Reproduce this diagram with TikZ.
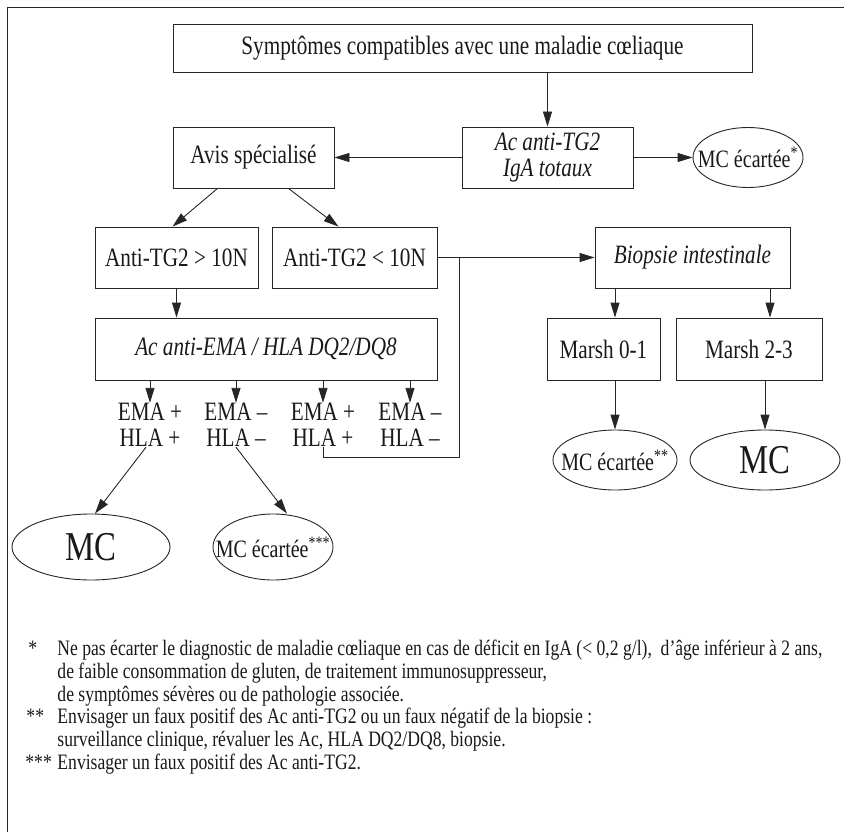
\documentclass[tikz,border=0pt]{standalone}
\usepackage{fontspec}
\setmainfont[FakeStretch=0.8]{Liberation Serif}
\usetikzlibrary{arrows.meta,shapes.geometric}
\begin{document}
\begin{tikzpicture}[x=1pt,y=-1pt, line width=0.9pt, color=black!85,
  every node/.style={inner sep=0pt, text=black!90},
  box/.style={draw, rectangle, align=center, font=\fontsize{26.5}{26}\selectfont},
  ell/.style={draw, ellipse},
  etext/.style={font=\fontsize{25}{26}\selectfont},
  big/.style={font=\fontsize{41}{42}\selectfont},
  lab/.style={align=center, font=\fontsize{26.5}{26}\selectfont},
  arr/.style={-{Triangle[length=15pt,width=9pt]}},
  foot/.style={anchor=base west, font=\fontsize{22}{23}\selectfont}]
\useasboundingbox (0,0) rectangle (844,832);
\draw (844,7) -- (7,7) -- (7,832);
% row 1
\node[box, minimum width=579pt, minimum height=48pt] (top) at (462.5,48) {Symptômes compatibles avec une maladie cœliaque};
% row 2
\node[box, minimum width=161pt, minimum height=61pt] (avis) at (253.5,157.5) {Avis spécialisé};
\node[box, minimum width=171pt, minimum height=61pt] (tg) at (547.5,157.5) {\itshape Ac anti-TG2\\\itshape IgA totaux};
\node[ell, minimum width=110pt, minimum height=60pt] (mc1) at (748,157.5) {};
\node[etext] (mc1t) at (mc1.center) {MC écartée\textsuperscript{*}};
% row 3
\node[box, minimum width=163pt, minimum height=61pt] (hi) at (176.5,257.5) {Anti-TG2 > 10N};
\node[box, minimum width=165pt, minimum height=61pt] (lo) at (354.5,257.5) {Anti-TG2 < 10N};
\node[box, minimum width=195pt, minimum height=61pt] (bio) at (692.5,257.5) {\itshape Biopsie intestinale};
% row 4
\node[box, minimum width=342pt, minimum height=62pt] (ema) at (266,349) {\itshape Ac anti-EMA / HLA DQ2/DQ8};
\node[box, minimum width=113pt, minimum height=62pt] (m01) at (603.5,349) {Marsh 0-1};
\node[box, minimum width=146pt, minimum height=62pt] (m23) at (749,349) {Marsh 2-3};
% labels
\node[lab] (l1) at (150,425) {EMA +\\HLA +};
\node[lab] (l2) at (236,425) {EMA –\\HLA –};
\node[lab] (l3) at (323,425) {EMA +\\HLA +};
\node[lab] (l4) at (410,425) {EMA –\\HLA –};
% ellipses
\node[ell, minimum width=124pt, minimum height=60pt] (mc2) at (615,460) {};
\node[etext] (mc2t) at (mc2.center) {MC écartée\textsuperscript{**}};
\node[ell, minimum width=150pt, minimum height=60pt] (mc3) at (765,460) {};
\node[big] (mc3t) at (mc3.center) {MC};
\node[ell, minimum width=158pt, minimum height=66pt] (mc4) at (91,547) {};
\node[big] (mc4t) at (mc4.center) {MC};
\node[ell, minimum width=120pt, minimum height=66pt] (mc5) at (273,547) {};
\node[etext] (mc5t) at (mc5.center) {MC écartée\textsuperscript{***}};
% connectors
\draw[arr] (top.south -| tg.north) -- (tg.north);
\draw[arr] (tg.west) -- (avis.east);
\draw[arr] (tg.east) -- (mc1.west);
\draw[arr] ([xshift=-36pt]avis.south) -- ([xshift=-4pt]hi.north);
\draw[arr] ([xshift=35pt]avis.south) -- ([xshift=-16pt]lo.north);
\draw[arr] (lo.east) -- (bio.west);
\draw[arr] (hi.south) -- (hi.south |- ema.north);
\foreach \l in {l1,l2,l3,l4} \draw[arr] (ema.south -| \l.north) -- (\l.north);
\draw[arr] ([xshift=-4pt]l1.south) -- ([xshift=4pt]mc4.north);
\draw[arr] (l2.south) -- ([xshift=14pt]mc5.north);
\coordinate (j1) at (459,457);
\draw (l3.south) -- (l3.south |- j1) -- (j1) -- (j1 |- lo.east);
\coordinate (b1) at (615,288);
\coordinate (b2) at (770,288);
\draw[arr] (b1) -- (b1 |- m01.north);
\draw[arr] (b2) -- (b2 |- m23.north);
\draw[arr] (m01.south -| mc2.north) -- (mc2.north);
\draw[arr] (m23.south -| mc3.north) -- (mc3.north);
% footnotes
\node[foot] (f1) at (28,655) {*};
\node[foot] (f1t) at (57,655) {Ne pas écarter le diagnostic de maladie cœliaque en cas de déficit en IgA (< 0,2 g/l),\ \ d’âge inférieur à 2 ans,};
\node[foot] (f2t) at (57,678) {de faible consommation de gluten, de traitement immunosuppresseur,};
\node[foot] (f3t) at (57,701) {de symptômes sévères ou de pathologie associée.};
\node[foot] (f4) at (26,723) {**};
\node[foot] (f4t) at (57,723) {Envisager un faux positif des Ac anti-TG2 ou un faux négatif de la biopsie :};
\node[foot] (f5t) at (57,746) {surveillance clinique, révaluer les Ac, HLA DQ2/DQ8, biopsie.};
\node[foot] (f6) at (25,769) {***};
\node[foot] (f6t) at (57,769) {Envisager un faux positif des Ac anti-TG2.};
\end{tikzpicture}
\end{document}
